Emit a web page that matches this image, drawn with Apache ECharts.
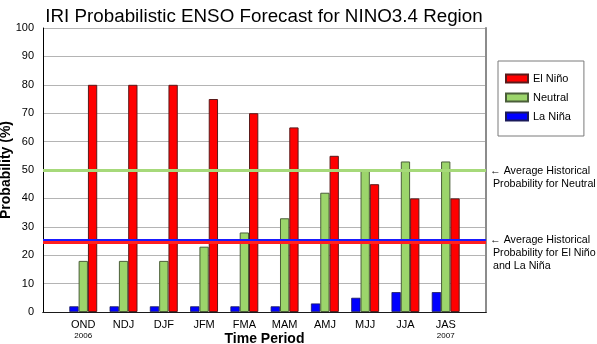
<!DOCTYPE html>
<html>
<head>
<meta charset="utf-8">
<script src="https://cdn.jsdelivr.net/npm/echarts@6/dist/echarts.min.js"></script>
<style>
  html, body { margin: 0; padding: 0; background: #fff; }
  #chart { width: 597px; height: 344px; }
</style>
</head>
<body>
<div id="chart"></div>
<script>
// Three-month forecast seasons and the probability (%) of each ENSO state
const seasons = ['OND', 'NDJ', 'DJF', 'JFM', 'FMA', 'MAM', 'AMJ', 'MJJ', 'JJA', 'JAS'];
const seasonYears = { OND: '2006', JAS: '2007' };
const elNino  = [80, 80, 80, 75, 70, 65, 55, 45, 40, 40];
const neutral = [18, 18, 18, 23, 28, 33, 42, 50, 53, 53];
const laNina  = [2, 2, 2, 2, 2, 2, 3, 5, 7, 7];
const yTicks = [0, 10, 20, 30, 40, 50, 60, 70, 80, 90, 100];

// Climatological (historical average) probabilities
const histNeutral = 50;
const histElNino = 25;
const histLaNina = 25;

const FONT = '"Liberation Sans", Arial, Helvetica, sans-serif';
const RED = '#ff0000', GREEN = '#9cd56b', BLUE = '#0000ff';

// Empty slots on both ends give half a season of padding at each side of the plot
const pad = arr => [null].concat(arr, [null]);
const cats = pad(seasons).map(c => c === null ? '' : c);

const chart = echarts.init(document.getElementById('chart'), null, { renderer: 'canvas' });

const barCommon = {
  type: 'bar',
  barWidth: 9.3,
  barGap: '0%',
  xAxisIndex: 0,
  yAxisIndex: 0
};

chart.setOption({
  animation: false,
  backgroundColor: '#fff',
  textStyle: { fontFamily: FONT },
  title: {
    text: 'IRI Probabilistic ENSO Forecast for NINO3.4 Region',
    left: 259,
    textAlign: 'center',
    top: 2,
    textStyle: { fontFamily: FONT, fontSize: 18.8, fontWeight: 'normal', color: '#000' }
  },
  grid: { left: 43, right: 111, top: 28, bottom: 32, containLabel: false, outerBoundsMode: 'none' },
  legend: {
    orient: 'vertical',
    left: 498,
    top: 61,
    data: ['El Niño', 'Neutral', 'La Niña'],
    itemWidth: 22,
    itemHeight: 8,
    itemGap: 6,
    icon: 'rect',
    padding: [11, 13, 13, 7],
    borderColor: '#7a7a7a',
    borderWidth: 1,
    textStyle: { fontFamily: FONT, fontSize: 11, color: '#000', lineHeight: 13 }
  },
  xAxis: [{
    type: 'category',
    data: cats,
    boundaryGap: false,
    position: 'bottom',
    axisLine: { lineStyle: { color: '#000', width: 1 } },
    axisTick: { show: false },
    axisLabel: {
      interval: 0,
      margin: 7,
      color: '#000',
      fontFamily: FONT,
      fontSize: 11,
      lineHeight: 12,
      formatter: v => seasonYears[v] ? v + '\n{yr|' + seasonYears[v] + '}' : v,
      rich: { yr: { fontSize: 8, lineHeight: 9, fontFamily: FONT, color: '#000' } }
    },
    splitLine: { show: false },
    name: 'Time Period',
    nameLocation: 'middle',
    nameGap: 20,
    nameMoveOverlap: false,
    nameTextStyle: { fontFamily: FONT, fontSize: 14, fontWeight: 'bold', color: '#000' }
  }, {
    type: 'category',
    data: cats,
    boundaryGap: false,
    position: 'top',
    axisLine: { lineStyle: { color: '#1a1a1a', width: 1 } },
    axisTick: { show: false },
    axisLabel: { show: false }
  }],
  yAxis: [{
    type: 'value',
    min: yTicks[0],
    max: yTicks[yTicks.length - 1],
    interval: 10,
    axisLine: { show: true, lineStyle: { color: '#000', width: 1 } },
    axisTick: { show: false },
    axisLabel: { color: '#000', fontFamily: FONT, fontSize: 11, margin: 9 },
    splitLine: { lineStyle: { color: '#b4b4b4', width: 1 } },
    name: 'Probability (%)',
    nameLocation: 'middle',
    nameGap: 30,
    nameMoveOverlap: false,
    nameTextStyle: { fontFamily: FONT, fontSize: 14, fontWeight: 'bold', color: '#000' }
  }, {
    type: 'value',
    min: 0,
    max: 100,
    interval: 10,
    position: 'right',
    axisLine: { show: true, lineStyle: { color: '#8c8c8c', width: 2 } },
    axisTick: { show: false },
    axisLabel: { show: false },
    splitLine: { show: false }
  }],
  graphic: [{
    type: 'text',
    left: 490,
    top: 165,
    style: {
      text: '← Average Historical\n Probability for Neutral',
      font: '10.7px ' + FONT,
      fill: '#000',
      lineHeight: 13
    }
  }, {
    type: 'text',
    left: 490,
    top: 234,
    style: {
      text: '← Average Historical\n Probability for El Niño\n and La Niña',
      font: '10.7px ' + FONT,
      fill: '#000',
      lineHeight: 13
    }
  }],
  series: [
    Object.assign({}, barCommon, {
      name: 'La Niña',
      data: pad(laNina),
      itemStyle: { color: BLUE, borderColor: '#1a1a5a', borderWidth: 0.8 },
      z: 2
    }),
    Object.assign({}, barCommon, {
      name: 'Neutral',
      data: pad(neutral),
      itemStyle: { color: GREEN, borderColor: '#4b5e3a', borderWidth: 1 },
      z: 2,
      markLine: {
        silent: true,
        symbol: 'none',
        label: { show: false },
        lineStyle: { color: '#a6d97a', width: 3, type: 'solid' },
        data: [{ yAxis: histNeutral }],
        z: 5
      }
    }),
    Object.assign({}, barCommon, {
      name: 'El Niño',
      data: pad(elNino),
      itemStyle: { color: RED, borderColor: '#5a1a1a', borderWidth: 1 },
      z: 2,
      markLine: {
        silent: true,
        symbol: 'none',
        label: { show: false },
        data: [
          { yAxis: histElNino - 0.3, lineStyle: { color: '#ff2020', width: 3, type: 'solid' } },
          { yAxis: histLaNina + 0.35, lineStyle: { color: '#1a1aff', width: 2, type: 'solid' } }
        ],
        z: 5
      }
    })
  ]
});
</script>
</body>
</html>
